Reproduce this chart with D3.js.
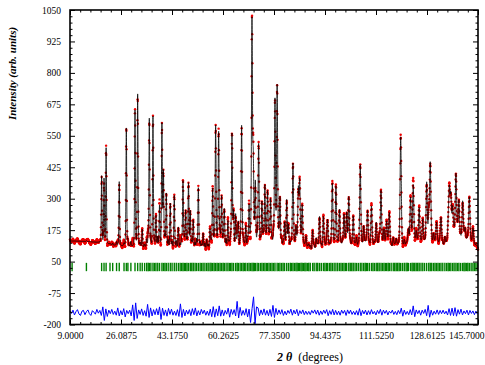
<!DOCTYPE html>
<html><head><meta charset="utf-8">
<script src="https://cdn.jsdelivr.net/npm/d3@7"></script>
<style>body{margin:0;background:#fff}svg{display:block}</style>
</head><body><svg id="c" width="485" height="365"></svg>
<script>
// ---------- data ----------
const xTickValues = [9.0, 26.0875, 43.175, 60.2625, 77.35, 94.4375, 111.525, 128.6125, 145.7];
const xTickLabels = ["9.0000","26.0875","43.1750","60.2625","77.3500","94.4375","111.5250","128.6125","145.7000"];
const yTickValues = [-200, -75, 50, 175, 300, 425, 550, 675, 800, 925, 1050];
const yTickLabels = ["-200","-75","50","175","300","425","550","675","800","925","1050"];

// background (2theta, counts)
const bgAngle = [9, 15, 19, 22, 26, 32, 40, 50, 60, 70, 80, 90, 100, 110, 120, 130, 140, 145.7];
const bgLevel = [132, 130, 126, 118, 112, 108, 104, 98, 95, 92, 92, 92, 92, 92, 92, 94, 96, 92];

// reflection positions (2theta) and peak intensities above background
const reflPos = [
 9.7, 14.5,
 19.6, 20.4, 21.1, 22.4, 23.3, 24.6, 25.5,
 27.1, 27.87, 28.4, 29.4, 30.78, 31.67, 32.5, 33.2,
 34.0, 34.7, 35.2, 35.57, 36.1, 36.8, 37.3, 37.8, 38.4, 39.0, 39.8, 40.3,
 40.8, 41.27, 41.9, 42.6, 43.2, 43.94, 44.6, 45.3, 45.9, 46.4, 46.86, 47.3, 47.75, 48.2, 48.7, 49.3, 49.8,
 50.3, 50.9, 51.4, 52.0, 52.6, 53.1, 53.6, 54.2, 54.8, 55.3, 55.9, 56.3, 56.8, 57.3, 57.8, 58.3, 58.8, 59.3, 59.8,
 60.3, 60.7, 61.3, 61.9, 62.4, 62.8, 63.27, 63.8, 64.5, 65.0, 65.4, 66.0, 66.5, 67.0, 67.4, 67.9, 68.5, 69.0, 69.5, 69.97,
 70.4, 70.8, 71.1, 71.7, 72.2, 72.8, 73.3, 73.8, 74.3, 74.8, 75.2, 75.7, 76.2, 76.7, 77.2, 77.68, 78.4, 78.9, 79.35, 79.9,
 80.4, 80.9, 81.6, 82.2, 82.8, 83.2, 83.7, 84.2, 84.7, 85.1, 85.5, 85.95, 86.4, 86.8, 87.3, 87.7, 88.1, 88.6, 89.0, 89.5,
 90.3, 90.8, 91.5, 92.0, 92.6, 93.2, 93.9, 94.4, 94.9, 95.3, 95.9, 96.4, 96.9, 97.5, 98.1, 98.7, 99.3, 99.8,
 100.3, 100.8, 101.3, 101.7, 102.4, 102.9, 103.4, 103.9, 104.5, 105.0, 105.6, 106.25, 106.8, 107.4, 107.9, 108.3, 108.7, 109.3, 110.0, 110.5,
 111.0, 111.6, 112.1, 112.6, 113.2, 113.7, 114.2, 114.7, 115.1, 115.6, 116.0, 116.6, 117.3, 117.8, 118.3, 118.8, 119.3, 119.8,
 120.4, 121.0, 121.6, 122.0, 122.4, 123.1, 123.6, 124.0, 124.5, 125.0, 125.5, 126.0, 126.6, 127.2, 127.8, 128.5, 129.2, 129.7,
 130.2, 130.8, 131.3, 131.8, 132.3, 132.8, 133.3, 133.9, 134.6, 135.2, 135.7, 136.1, 136.6, 137.2, 137.7, 138.3, 138.8, 139.3, 139.9,
 140.55, 141.0, 141.4, 141.9, 142.3, 142.8, 143.4, 144.0, 144.5, 145.0, 145.5
];
const reflAmp = [
 0, 3,
 265, 255, 380, 5, 8, 15, 255,
 10, 470, 25, 20, 540, 605, 15, 70,
 10, 30, 40, 510, 15, 520, 20, 125, 40, 165, 490, 300,
 40, 215, 30, 178, 25, 210, 30, 85, 20, 40, 268, 40, 150, 30, 260, 150, 30,
 115, 25, 40, 245, 30, 20, 65, 25, 40, 20, 80, 30, 240, 40, 490, 30, 465, 60, 210,
 40, 160, 40, 115, 30, 45, 460, 150, 140, 40, 110, 30, 495, 40, 25, 95, 45, 175, 50, 905,
 350, 40, 260, 50, 420, 40, 190, 60, 255, 50, 230, 60, 200, 40, 60, 595, 650, 50, 205, 40,
 30, 110, 200, 100, 30, 25, 345, 25, 90, 30, 235, 270, 35, 175, 25, 20, 55, 15, 25, 20,
 80, 20, 50, 25, 135, 25, 135, 25, 30, 120, 25, 30, 265, 30, 255, 30, 160, 25,
 35, 140, 30, 145, 210, 30, 25, 135, 25, 50, 25, 340, 25, 95, 25, 30, 155, 30, 175, 25,
 30, 110, 20, 60, 235, 25, 80, 25, 110, 30, 145, 25, 50, 20, 45, 20, 25, 450,
 20, 40, 25, 20, 80, 205, 35, 250, 30, 70, 30, 165, 30, 120, 30, 265, 130, 335,
 30, 60, 25, 105, 25, 30, 125, 25, 50, 25, 80, 220, 200, 155, 60, 290, 60, 185, 40,
 185, 30, 75, 25, 40, 205, 30, 85, 20, 20, 15
];

// residuals (obs - calc) read every 0.5 deg from 9.0
const residStart = 9.0, residStep = 0.5;
const residuals = [
 6,-4,9,-10,3,11,-6,-12,5,8,
 -9,3,10,-5,-12,7,1,-7,12,-3,
 8,-12,22,-32,14,-16,9,-5,12,-8,
 5,-11,18,-14,7,-10,15,-18,8,-5,
 9,-14,30,-32,38,-24,10,-8,14,-12,
 7,-15,32,-20,18,-14,11,-9,15,-10,
 22,-28,17,-12,10,-15,16,-8,13,-11,
 5,-12,11,-16,34,-20,12,-14,9,-7,
 11,-13,15,-9,18,-14,7,-10,12,-5,
 9,-11,5,-12,13,-17,23,-19,14,-13,
 26,-15,10,-13,8,-7,17,-19,12,-8,
 11,-14,44,-22,20,-12,8,-11,15,-18,
 13,-40,15,62,-45,22,18,-13,10,-9,
 14,-11,8,-13,12,-16,28,-20,16,-9,
 10,-7,11,-12,5,-10,8,-4,13,-11,
 9,-6,12,-13,7,-5,10,-9,5,-8,
 4,-9,8,-3,10,-7,9,-11,6,-8,
 9,-4,11,-13,7,-8,12,-10,8,-9,
 5,-11,9,-4,8,-12,10,-5,9,-8,
 4,-9,7,-11,15,-13,8,-6,9,-10,
 7,-8,11,-6,4,-10,8,-5,12,-11,
 9,-4,8,-10,5,-3,9,-8,4,-9,
 8,-5,17,-15,9,-8,4,-9,11,-10,
 26,-17,10,-5,8,-11,9,-4,12,-13,
 28,-19,9,-11,5,-7,10,-8,8,-5,
 9,-6,5,-10,15,-12,17,-13,19,-15,
 11,-7,13,-10,6,-5,9,-10,8,-4,
 6,-9,5,-7
];
const diffOffset = -152;
const braggTickRange = [12, 45];

// ---------- layout ----------
const L = 70, R = 478, T = 10, B = 324.5;
const x = d3.scaleLinear().domain([9.0, 145.7]).range([L, R]);
const y = d3.scaleLinear().domain([-200, 1050]).range([B, T]);
const svg = d3.select("#c");
const FONT = "'Liberation Serif','Times New Roman',serif";

// ---------- model ----------
const bgScale = d3.scaleLinear().domain(bgAngle).range(bgLevel).clamp(true);
const residScale = d3.scaleLinear()
  .domain(residuals.map((_, i) => residStart + i * residStep))
  .range(residuals).clamp(true);
const fwhm = t => 0.28 + 0.002 * Math.max(0, t - 20);
const eta = 0.2;
function calc(t) {
  let s = bgScale(t);
  for (let i = 0; i < reflPos.length; i++) {
    const w = fwhm(reflPos[i]);
    const d = t - reflPos[i];
    if (Math.abs(d) > 6 * w) continue;
    const u = (2 * d / w);
    const G = Math.exp(-Math.LN2 * u * u);
    const Lz = 1 / (1 + u * u);
    s += reflAmp[i] * (eta * Lz + (1 - eta) * G);
  }
  return s;
}
const calcPts = d3.range(9.0, 145.7001, 0.01).map(t => [t, calc(t)]);
const obsPts = d3.range(9.0, 145.7001, 0.05).map(t => [t, calc(t) + residScale(t)]);
const diffPts = residuals.map((r, i) => [residStart + i * residStep, r + diffOffset]);

// ---------- marks ----------
const plot = svg.append("g");
plot.append("g").selectAll("line").data(reflPos).join("line")
  .attr("x1", d => x(d)).attr("x2", d => x(d))
  .attr("y1", y(braggTickRange[0])).attr("y2", y(braggTickRange[1]))
  .attr("stroke", "#008000").attr("stroke-width", 1.4);
plot.append("path").datum(diffPts)
  .attr("d", d3.line().x(d => x(d[0])).y(d => y(d[1])))
  .attr("fill", "none").attr("stroke", "#0000ff").attr("stroke-width", 1);
plot.append("g").selectAll("circle").data(obsPts).join("circle")
  .attr("cx", d => x(d[0])).attr("cy", d => y(d[1])).attr("r", 1.2)
  .attr("fill", "#ee0000");
plot.append("path").datum(calcPts)
  .attr("d", d3.line().x(d => x(d[0])).y(d => y(d[1])))
  .attr("fill", "none").attr("stroke", "#000").attr("stroke-width", 0.8);

// ---------- axes ----------
function minorVals(major) {
  const out = [];
  for (let i = 0; i < major.length - 1; i++) {
    const st = (major[i + 1] - major[i]) / 5;
    for (let k = 1; k < 5; k++) out.push(major[i] + k * st);
  }
  return out;
}
const xMinor = minorVals(xTickValues), yMinor = minorVals(yTickValues);

function styleAxis(g) {
  g.select(".domain").remove();
  g.selectAll("line").attr("stroke", "#000").attr("stroke-width", 1);
  g.selectAll("text").attr("font-family", FONT).attr("font-size", 9.5).attr("fill", "#000");
}
const bottom = svg.append("g").attr("transform", `translate(0,${B})`)
  .call(d3.axisBottom(x).tickValues(xTickValues).tickSize(-5).tickPadding(8)
    .tickFormat((d, i) => xTickLabels[i])).call(styleAxis);
bottom.selectAll(".tick").filter(d => d === xTickValues[xTickValues.length - 1])
  .select("text").attr("text-anchor", "end").attr("x", 484 - R);
svg.append("g").attr("transform", `translate(0,${B})`)
  .call(d3.axisBottom(x).tickValues(xMinor).tickSize(-2.5).tickFormat("")).call(styleAxis);
svg.append("g").attr("transform", `translate(0,${T})`)
  .call(d3.axisTop(x).tickValues(xTickValues).tickSize(-5).tickFormat("")).call(styleAxis);
svg.append("g").attr("transform", `translate(0,${T})`)
  .call(d3.axisTop(x).tickValues(xMinor).tickSize(-2.5).tickFormat("")).call(styleAxis);
svg.append("g").attr("transform", `translate(${L},0)`)
  .call(d3.axisLeft(y).tickValues(yTickValues).tickSize(-5).tickPadding(9)
    .tickFormat((d, i) => yTickLabels[i])).call(styleAxis);
svg.append("g").attr("transform", `translate(${L},0)`)
  .call(d3.axisLeft(y).tickValues(yMinor).tickSize(-2.5).tickFormat("")).call(styleAxis);
svg.append("g").attr("transform", `translate(${R},0)`)
  .call(d3.axisRight(y).tickValues(yTickValues).tickSize(-5).tickFormat("")).call(styleAxis);
svg.append("g").attr("transform", `translate(${R},0)`)
  .call(d3.axisRight(y).tickValues(yMinor).tickSize(-2.5).tickFormat("")).call(styleAxis);

svg.append("rect").attr("x", L).attr("y", T).attr("width", R - L).attr("height", B - T)
  .attr("fill", "none").attr("stroke", "#000").attr("stroke-width", 1.6);

// titles
svg.append("text").attr("transform", "translate(16,73.5) rotate(-90)")
  .attr("text-anchor", "middle").attr("font-family", FONT).attr("font-size", 11)
  .attr("font-weight", "bold").attr("font-style", "italic").text("Intensity (arb. units)");
const xt = svg.append("text").attr("x", 277).attr("y", 361)
  .attr("font-family", FONT).attr("font-size", 12).style("white-space", "pre");
xt.append("tspan").attr("font-weight", "bold").attr("font-style", "italic").text("2 θ");
xt.append("tspan").text("  (degrees)");
</script>
</body></html>
